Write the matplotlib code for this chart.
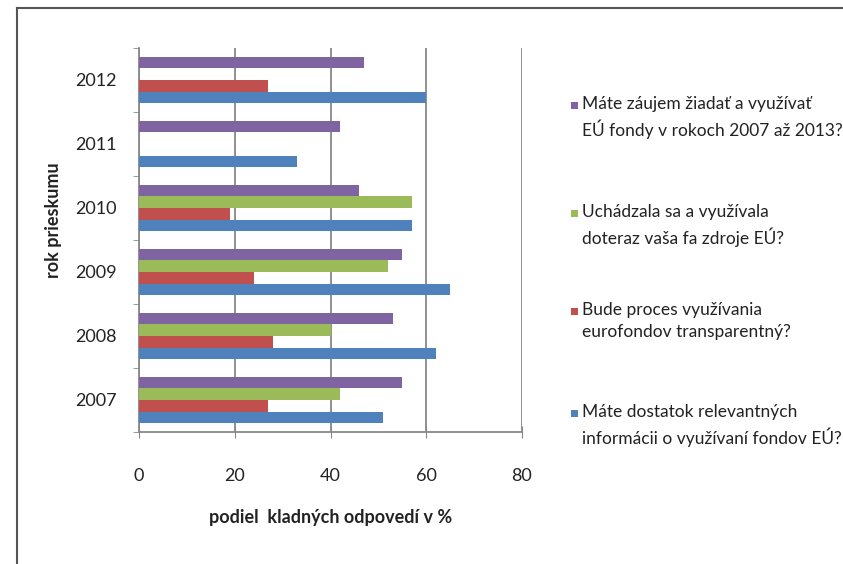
import matplotlib
matplotlib.use("Agg")
import matplotlib.pyplot as plt
from matplotlib.patches import Rectangle
from matplotlib.lines import Line2D
import numpy as np

years = ["2007", "2008", "2009", "2010", "2011", "2012"]
series_labels = [
    "Máte dostatok relevantných\ninformácii o využívaní fondov EÚ?",
    "Bude proces využívania\neurofondov transparentný?",
    "Uchádzala sa a využívala\ndoteraz vaša fa zdroje EÚ?",
    "Máte záujem žiadať a využívať\nEÚ fondy v rokoch 2007 až 2013?",
]
informacie = [51, 62, 65, 57, 33, 60]
transparentnost = [27, 28, 24, 19, np.nan, 27]
vyuzivala = [42, 40, 52, 57, np.nan, np.nan]
zaujem = [55, 53, 55, 46, 42, 47]
colors = ["#4F81BD", "#C0504D", "#9BBB59", "#8064A2"]
xticks = [0, 20, 40, 60, 80]

plt.rcParams['font.family'] = ['Lato', 'DejaVu Sans']

fig = plt.figure(figsize=(8.43, 5.64), dpi=100)
ax = fig.add_axes([139/843, 1-432/564, (522-139)/843, (432-48)/564])

y = np.arange(len(years))
h = 0.18
data = [informacie, transparentnost, vyuzivala, zaujem]
for i, (vals, c) in enumerate(zip(data, colors)):
    ax.barh(y + (i - 1.5) * h, np.nan_to_num(vals), height=h, color=c, zorder=3)

ax.set_xlim(0, 80)
ax.set_ylim(-0.5, 5.5)
ax.set_xticks(xticks)
ax.set_xticklabels([str(t) for t in xticks], fontsize=13)
ax.set_yticks(y)
ax.set_yticklabels(years, fontsize=13)
ax.set_yticks(np.arange(-0.5, 6, 1), minor=True)
ax.tick_params(axis='y', which='major', length=0, pad=16, colors='#222222')
ax.tick_params(axis='y', which='minor', length=4, direction='out', color='#888888')
ax.tick_params(axis='x', which='major', length=8, direction='inout', pad=22, color='#888888', labelcolor='#222222')
ax.grid(axis='x', color='#888888', linewidth=1.3, zorder=0)
for s in ['top', 'right']:
    ax.spines[s].set_visible(False)
for s in ['left', 'bottom']:
    ax.spines[s].set_color('#888888')
    ax.spines[s].set_linewidth(1.3)

ax.set_xlabel("podiel  kladných odpovedí v %", fontsize=13, fontweight='bold', va='center', color='#222222')
ax.xaxis.set_label_coords(0.5, (432-518)/384)
ax.set_ylabel("rok prieskumu", fontsize=13, fontweight='bold', va='center', ha='center', color='#222222')
ax.yaxis.set_label_coords((53-139)/383, (432-220)/384)

# legend (top to bottom: purple, green, red, blue)
first_lines = [413, 311, 213, 105]
for lab, c, yl in zip(series_labels, colors, first_lines):
    fig.patches.append(Rectangle((571/843, 1-(yl+4)/564), 7/843, 7/564,
                                 transform=fig.transFigure, facecolor=c, edgecolor='none'))
    fig.text(582/843, 1-(yl-9)/564, lab, fontsize=12.5, color='#222222', va='top', ha='left',
             linespacing=1.45)

# outer frame lines
fig.add_artist(Line2D([17/843, 1], [1-8/564, 1-8/564], transform=fig.transFigure, color='#555555', linewidth=1.5))
fig.add_artist(Line2D([17/843, 17/843], [0, 1-8/564], transform=fig.transFigure, color='#555555', linewidth=1.5))

fig.savefig("out.png", dpi=100)
